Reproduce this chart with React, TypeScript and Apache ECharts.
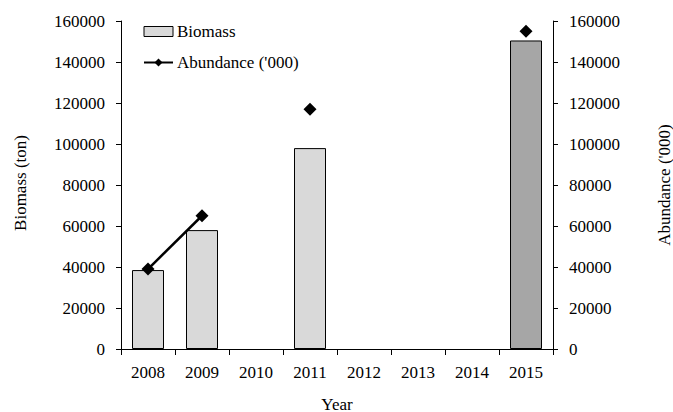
import React, { useEffect, useRef } from "react";
import * as echarts from "echarts";

const years = ["2008", "2009", "2010", "2011", "2012", "2013", "2014", "2015"];
const biomass: (number | null)[] = [38500, 58000, null, 98000, null, null, null, 150500];
const abundance: (number | null)[] = [39000, 65000, null, 117000, null, null, null, 155000];
const barColors = ["#d9d9d9", "#d9d9d9", "#d9d9d9", "#d9d9d9", "#d9d9d9", "#d9d9d9", "#d9d9d9", "#a6a6a6"];

const FONT = "Liberation Serif";
const FS = 17;

export default function App() {
  const ref = useRef<HTMLDivElement>(null);
  useEffect(() => {
    if (!ref.current) return;
    const chart = echarts.init(ref.current, undefined, { renderer: "svg" });
    const axisCommon = {
      type: "value" as const,
      min: 0,
      max: 160000,
      interval: 20000,
      splitLine: { show: false },
      axisLine: { show: true, lineStyle: { color: "#000", width: 1 } },
      axisTick: { show: true, length: 5, inside: false, lineStyle: { color: "#000" } },
      axisLabel: {
        color: "#000",
        fontFamily: FONT,
        fontSize: FS,
        margin: 16,
        formatter: (v: number) => String(v),
      },
    };
    chart.setOption({
      animation: false,
      backgroundColor: "#fff",
      textStyle: { fontFamily: FONT, fontSize: FS },
      grid: { left: 121, right: 120, top: 21, bottom: 63, containLabel: false },
      legend: {
        show: true,
        orient: "vertical",
        left: 143,
        top: 23,
        padding: 0,
        itemWidth: 29,
        itemHeight: 10,
        itemGap: 14,
        textStyle: { color: "#000", fontFamily: FONT, fontSize: FS, padding: [0, 0, 0, -1] },
        data: [
          { name: "Biomass", icon: "rect", itemStyle: { color: "#d9d9d9", borderColor: "#000", borderWidth: 1 } },
          { name: "Abundance ('000)" },
        ],
      },
      xAxis: {
        type: "category",
        data: years,
        boundaryGap: true,
        axisLine: { show: true, lineStyle: { color: "#000", width: 1 } },
        axisTick: { show: true, length: 6, alignWithLabel: false, lineStyle: { color: "#000" } },
        axisLabel: { color: "#000", fontFamily: FONT, fontSize: FS, margin: 15, interval: 0 },
        splitLine: { show: false },
      },
      yAxis: [
        { ...axisCommon, position: "left" },
        { ...axisCommon, position: "right" },
      ],
      series: [
        {
          name: "Biomass",
          type: "bar",
          yAxisIndex: 0,
          barWidth: 32,
          data: biomass.map((v, i) => ({
            value: v,
            itemStyle: { color: barColors[i], borderColor: "#000", borderWidth: 1 },
          })),
        },
        {
          name: "Abundance ('000)",
          type: "line",
          yAxisIndex: 1,
          data: abundance,
          connectNulls: false,
          symbol: "diamond",
          symbolSize: 13,
          showSymbol: true,
          lineStyle: { color: "#000", width: 2.5 },
          itemStyle: { color: "#000" },
        },
      ],
      graphic: [
        {
          type: "text",
          x: 20,
          y: 183,
          rotation: Math.PI / 2,
          style: { text: "Biomass (ton)", fontFamily: FONT, fontSize: FS, fill: "#000", align: "center", verticalAlign: "middle" },
        },
        {
          type: "text",
          x: 664,
          y: 185,
          rotation: Math.PI / 2,
          style: { text: "Abundance ('000)", fontFamily: FONT, fontSize: FS, fill: "#000", align: "center", verticalAlign: "middle" },
        },
        {
          type: "text",
          x: 337,
          y: 404,
          style: { text: "Year", fontFamily: FONT, fontSize: FS, fill: "#000", align: "center", verticalAlign: "middle" },
        },
      ],
    });
    return () => chart.dispose();
  }, []);
  return <div ref={ref} style={{ width: 673, height: 412, position: "fixed", left: 0, top: 0 }} />;
}
